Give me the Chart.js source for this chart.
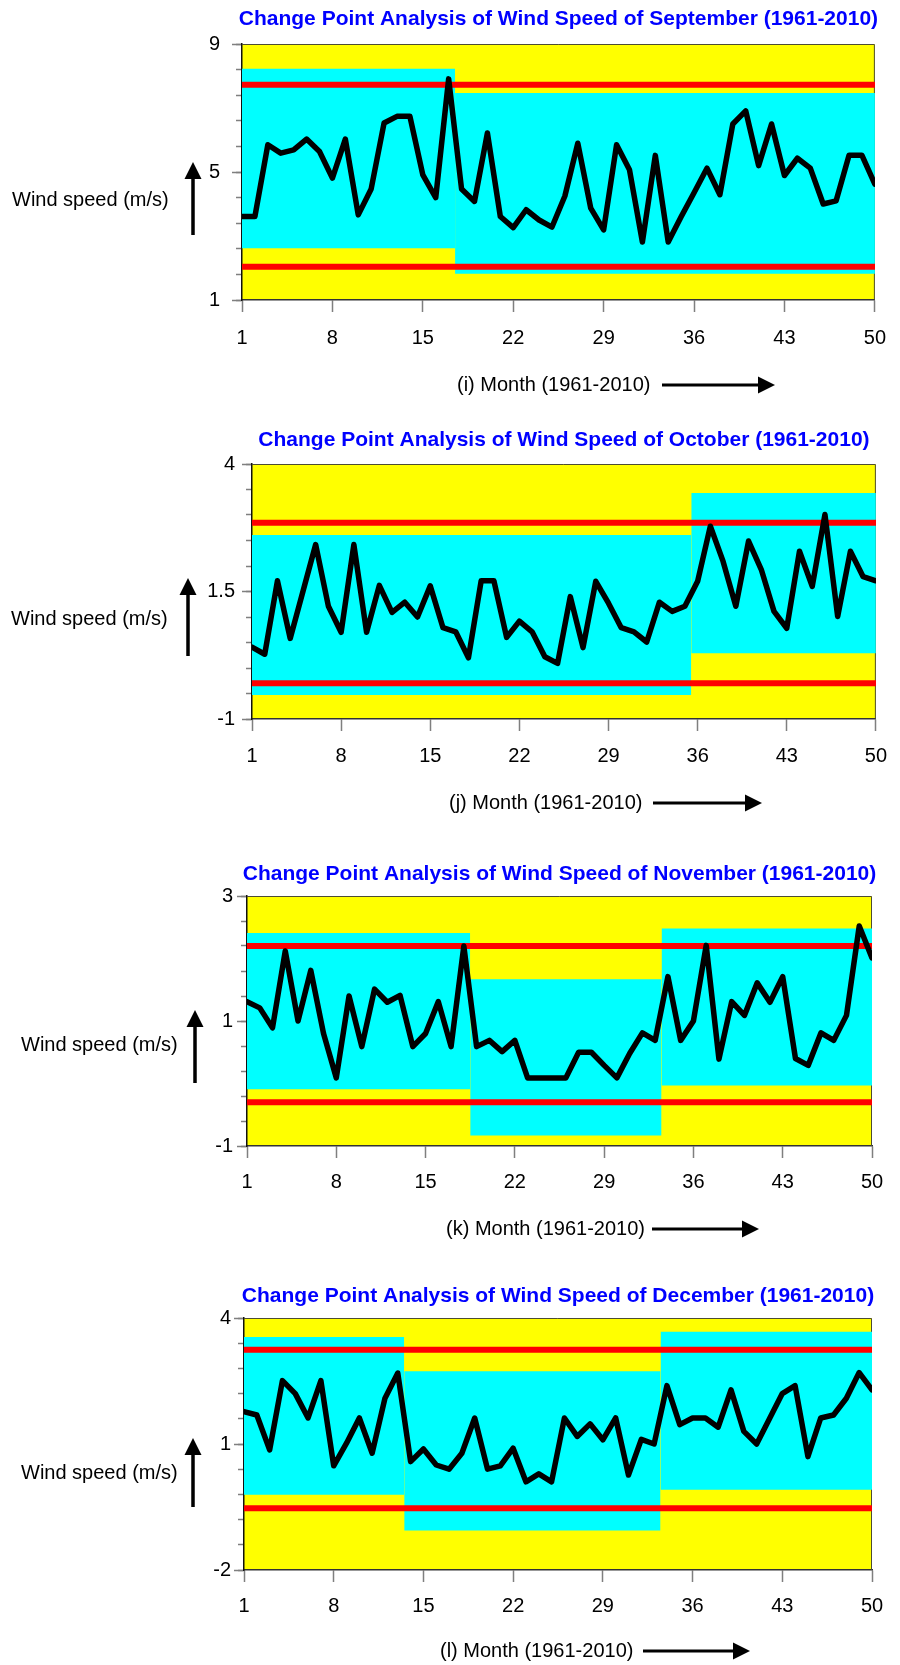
<!DOCTYPE html>
<html>
<head>
<meta charset="utf-8">
<title>Change Point Analysis of Wind Speed</title>
<script src="https://cdn.jsdelivr.net/npm/chart.js@4.4.1/dist/chart.umd.min.js"></script>
<style>
  html, body { margin: 0; padding: 0; background: #fff; }
  #wrap { position: relative; width: 900px; height: 1665px; overflow: hidden; }
  #wrap canvas { position: absolute; left: 0; }
</style>
</head>
<body>
<div id="wrap"></div>
<script>
// months 1..50 = years 1961-2010
const months = Array.from({length: 50}, (_, i) => i + 1);
const monthStep = 7;

// September
const sepSpeed = [3.61, 3.61, 5.85, 5.59, 5.69, 6.03, 5.64, 4.81, 6.03, 3.66,
  4.47, 6.53, 6.74, 6.74, 4.91, 4.20, 7.91, 4.47, 4.08, 6.22,
  3.61, 3.26, 3.82, 3.50, 3.28, 4.25, 5.90, 3.87, 3.19, 5.85,
  5.07, 2.81, 5.52, 2.81, 3.60, 4.35, 5.12, 4.29, 6.50, 6.91,
  5.20, 6.50, 4.89, 5.43, 5.12, 4.00, 4.10, 5.52, 5.52, 4.62];
const sepLimits = [2.04, 7.73];
const sepChangePoints = [1, 17.5, 50];
const sepBandTop = [8.23, 7.47];
const sepBandBottom = [2.62, 1.82];
const sepRange = [1, 9];
const sepSteps = [4, 0.8];

// October
const octSpeed = [0.41, 0.27, 1.71, 0.58, 1.50, 2.42, 1.21, 0.70, 2.42, 0.70,
  1.62, 1.09, 1.29, 1.00, 1.61, 0.79, 0.71, 0.20, 1.71, 1.71,
  0.60, 0.92, 0.71, 0.22, 0.09, 1.40, 0.40, 1.70, 1.27, 0.79,
  0.71, 0.51, 1.29, 1.11, 1.21, 1.70, 2.78, 2.09, 1.21, 2.49,
  1.93, 1.11, 0.78, 2.29, 1.60, 3.01, 1.01, 2.29, 1.79, 1.71];
const octLimits = [-0.30, 2.85];
const octChangePoints = [1, 35.5, 50];
const octBandTop = [2.61, 3.43];
const octBandBottom = [-0.53, 0.29];
const octRange = [-1, 4];
const octSteps = [2.5, 0.5];

// November
const novSpeed = [1.31, 1.21, 0.89, 2.12, 1.00, 1.81, 0.80, 0.09, 1.40, 0.59,
  1.51, 1.30, 1.41, 0.59, 0.80, 1.31, 0.59, 2.20, 0.59, 0.69,
  0.51, 0.69, 0.09, 0.09, 0.09, 0.09, 0.50, 0.50, 0.29, 0.09,
  0.48, 0.81, 0.69, 1.71, 0.69, 1.00, 2.21, 0.39, 1.31, 1.09,
  1.61, 1.30, 1.71, 0.40, 0.29, 0.81, 0.69, 1.09, 2.52, 2.01];
const novLimits = [-0.30, 2.20];
const novChangePoints = [1, 18.5, 33.5, 50];
const novBandTop = [2.41, 1.67, 2.48];
const novBandBottom = [-0.09, -0.83, -0.03];
const novRange = [-1, 3];
const novSteps = [2, 0.4];

// December
const decSpeed = [1.77, 1.69, 0.86, 2.51, 2.20, 1.62, 2.51, 0.48, 1.02, 1.62,
  0.78, 2.09, 2.69, 0.58, 0.88, 0.50, 0.40, 0.78, 1.62, 0.40,
  0.48, 0.90, 0.10, 0.29, 0.10, 1.62, 1.18, 1.48, 1.10, 1.62,
  0.26, 1.11, 1.00, 2.39, 1.46, 1.62, 1.62, 1.40, 2.29, 1.30,
  1.00, 1.60, 2.20, 2.39, 0.70, 1.62, 1.69, 2.09, 2.70, 2.29];
const decLimits = [-0.53, 3.245];
const decChangePoints = [1, 13.5, 33.5, 50];
const decBandTop = [3.55, 2.73, 3.67];
const decBandBottom = [-0.21, -1.06, -0.09];
const decRange = [-2, 4];
const decSteps = [3, 0.6];

const monthNames = ['September', 'October', 'November', 'December'];
const panelTags = ['(i)', '(j)', '(k)', '(l)'];

// page positions of each panel (px)
const layouts = [
  {top: 0, height: 410, left: 242, right: 883, plotTop: 44, plotBottom: 300, yPad: 12, xPad: 14,
   titleY: 19, yLabX: 12, yLabY: 200, upX: 193, upTip: 162, upTail: 235,
   xLabX: 457, xLabY: 385, arrX0: 662, arrX1: 775},
  {top: 410, height: 425, left: 252, right: 884, plotTop: 464, plotBottom: 719, yPad: 7, xPad: 13,
   titleY: 440, yLabX: 11, yLabY: 619, upX: 188, upTip: 578, upTail: 656,
   xLabX: 449, xLabY: 803, arrX0: 653, arrX1: 762},
  {top: 835, height: 420, left: 247, right: 872, plotTop: 896, plotBottom: 1146, yPad: 4, xPad: 12,
   titleY: 874, yLabX: 21, yLabY: 1045, upX: 195, upTip: 1010, upTail: 1083,
   xLabX: 446, xLabY: 1229, arrX0: 652, arrX1: 759},
  {top: 1255, height: 410, left: 244, right: 872, plotTop: 1318, plotBottom: 1570, yPad: 3, xPad: 12,
   titleY: 1296, yLabX: 21, yLabY: 1473, upX: 193, upTip: 1438, upTail: 1507,
   xLabX: 440, xLabY: 1651, arrX0: 643, arrX1: 750}
];

const panels = [
  {speed: sepSpeed, limits: sepLimits, cps: sepChangePoints, bandTop: sepBandTop, bandBottom: sepBandBottom, range: sepRange, steps: sepSteps},
  {speed: octSpeed, limits: octLimits, cps: octChangePoints, bandTop: octBandTop, bandBottom: octBandBottom, range: octRange, steps: octSteps},
  {speed: novSpeed, limits: novLimits, cps: novChangePoints, bandTop: novBandTop, bandBottom: novBandBottom, range: novRange, steps: novSteps},
  {speed: decSpeed, limits: decLimits, cps: decChangePoints, bandTop: decBandTop, bandBottom: decBandBottom, range: decRange, steps: decSteps}
];

const FONT = '"Liberation Sans", Arial, Helvetica, sans-serif';
Chart.defaults.font.family = FONT;
Chart.defaults.color = '#000';

// yellow plot area, border, titles, axis labels and arrows
const decor = {
  id: 'decor',
  beforeDraw(chart) {
    const {ctx, chartArea: a} = chart;
    ctx.save();
    ctx.fillStyle = '#ffff00';
    ctx.fillRect(a.left, a.top, a.right - a.left, a.bottom - a.top);
    ctx.restore();
  },
  beforeDatasetsDraw(chart) {
    const {ctx, chartArea: a} = chart;
    ctx.save();
    ctx.strokeStyle = '#4d4d33';
    ctx.lineWidth = 1;
    ctx.beginPath();
    ctx.moveTo(a.left, a.top + 0.5);
    ctx.lineTo(a.right - 0.5, a.top + 0.5);
    ctx.lineTo(a.right - 0.5, a.bottom);
    ctx.stroke();
    ctx.restore();
  },
  afterDraw(chart, args, o) {
    const {ctx, chartArea: a} = chart;
    const L = o.lay, t = L.top;
    ctx.save();
    ctx.textBaseline = 'middle';
    ctx.font = 'bold 21px ' + FONT;
    ctx.fillStyle = '#0000ff';
    ctx.textAlign = 'center';
    ctx.fillText(o.title, (a.left + a.right) / 2, L.titleY - t);

    ctx.font = '20px ' + FONT;
    ctx.fillStyle = '#000';
    ctx.textAlign = 'left';
    ctx.fillText('Wind speed (m/s)', L.yLabX, L.yLabY - t);
    ctx.fillText(o.xTitle, L.xLabX, L.xLabY - t);

    // up arrow
    const tip = L.upTip - t, tail = L.upTail - t;
    ctx.fillRect(L.upX - 1.75, tip + 15, 3.5, tail - tip - 15);
    ctx.beginPath();
    ctx.moveTo(L.upX, tip);
    ctx.lineTo(L.upX - 8.5, tip + 17);
    ctx.lineTo(L.upX + 8.5, tip + 17);
    ctx.closePath();
    ctx.fill();

    // right arrow
    const ay = L.xLabY - t;
    ctx.fillRect(L.arrX0, ay - 1.5, L.arrX1 - L.arrX0 - 15, 3);
    ctx.beginPath();
    ctx.moveTo(L.arrX1, ay);
    ctx.lineTo(L.arrX1 - 17, ay - 8.5);
    ctx.lineTo(L.arrX1 - 17, ay + 8.5);
    ctx.closePath();
    ctx.fill();
    ctx.restore();
  }
};

const wrap = document.getElementById('wrap');

panels.forEach((p, k) => {
  const L = layouts[k];
  const canvas = document.createElement('canvas');
  canvas.width = 900;
  canvas.height = L.height;
  canvas.style.top = L.top + 'px';
  wrap.appendChild(canvas);

  const xMin = months[0], xMax = months[months.length - 1];
  const datasets = [];

  // observed wind speed
  datasets.push({
    data: months.map((m, i) => ({x: m, y: p.speed[i]})),
    borderColor: '#000', borderWidth: 5.5, pointRadius: 0, tension: 0,
    borderJoinStyle: 'round', borderCapStyle: 'round', fill: false
  });
  // control limits
  p.limits.forEach(v => {
    datasets.push({
      data: [{x: xMin, y: v}, {x: xMax, y: v}],
      borderColor: '#ff0000', borderWidth: 6, pointRadius: 0,
      borderCapStyle: 'round', fill: false
    });
  });
  // confidence band of each segment between change points
  for (let s = 0; s < p.bandTop.length; s++) {
    const x0 = p.cps[s], x1 = p.cps[s + 1];
    datasets.push({
      data: [{x: x0, y: p.bandTop[s]}, {x: x1, y: p.bandTop[s]}],
      borderWidth: 0, borderColor: 'rgba(0,0,0,0)', pointRadius: 0,
      fill: '+1', backgroundColor: '#00ffff'
    });
    datasets.push({
      data: [{x: x0, y: p.bandBottom[s]}, {x: x1, y: p.bandBottom[s]}],
      borderWidth: 0, borderColor: 'rgba(0,0,0,0)', pointRadius: 0, fill: false
    });
  }

  new Chart(canvas.getContext('2d'), {
    type: 'line',
    data: {datasets: datasets},
    plugins: [decor],
    options: {
      responsive: false,
      animation: false,
      events: [],
      layout: {padding: {top: L.plotTop - L.top, right: 900 - L.right, left: 0, bottom: 0}},
      plugins: {
        legend: {display: false},
        title: {display: false},
        tooltip: {enabled: false},
        decor: {
          lay: L,
          title: 'Change Point Analysis of Wind Speed of ' + monthNames[k] + ' (1961-2010)',
          xTitle: panelTags[k] + ' Month (1961-2010)'
        }
      },
      scales: {
        x: {
          type: 'linear', min: xMin, max: xMax,
          ticks: {stepSize: monthStep, padding: L.xPad, font: {size: 20}, color: '#000', maxRotation: 0, autoSkip: false},
          grid: {drawOnChartArea: false, tickLength: 12, tickColor: '#7f7f7f', tickWidth: 1.5},
          border: {color: '#333', width: 1.5},
          afterFit: s => { s.height = L.top + L.height - L.plotBottom; }
        },
        y: {
          type: 'linear', position: 'left', min: p.range[0], max: p.range[1], weight: 1,
          ticks: {stepSize: p.steps[0], padding: L.yPad, font: {size: 20}, color: '#000'},
          grid: {drawOnChartArea: false, tickLength: 10, tickColor: '#7f7f7f', tickWidth: 1.5},
          border: {color: '#111', width: 1.5},
          afterFit: s => { s.width = L.left; }
        },
        yMinor: {
          type: 'linear', position: 'left', min: p.range[0], max: p.range[1], weight: 0,
          ticks: {stepSize: p.steps[1], display: false},
          grid: {drawOnChartArea: false, tickLength: 6, tickColor: '#7f7f7f', tickWidth: 1.5},
          border: {display: false},
          afterFit: s => { s.width = 0; }
        }
      }
    }
  });
});
</script>
</body>
</html>
